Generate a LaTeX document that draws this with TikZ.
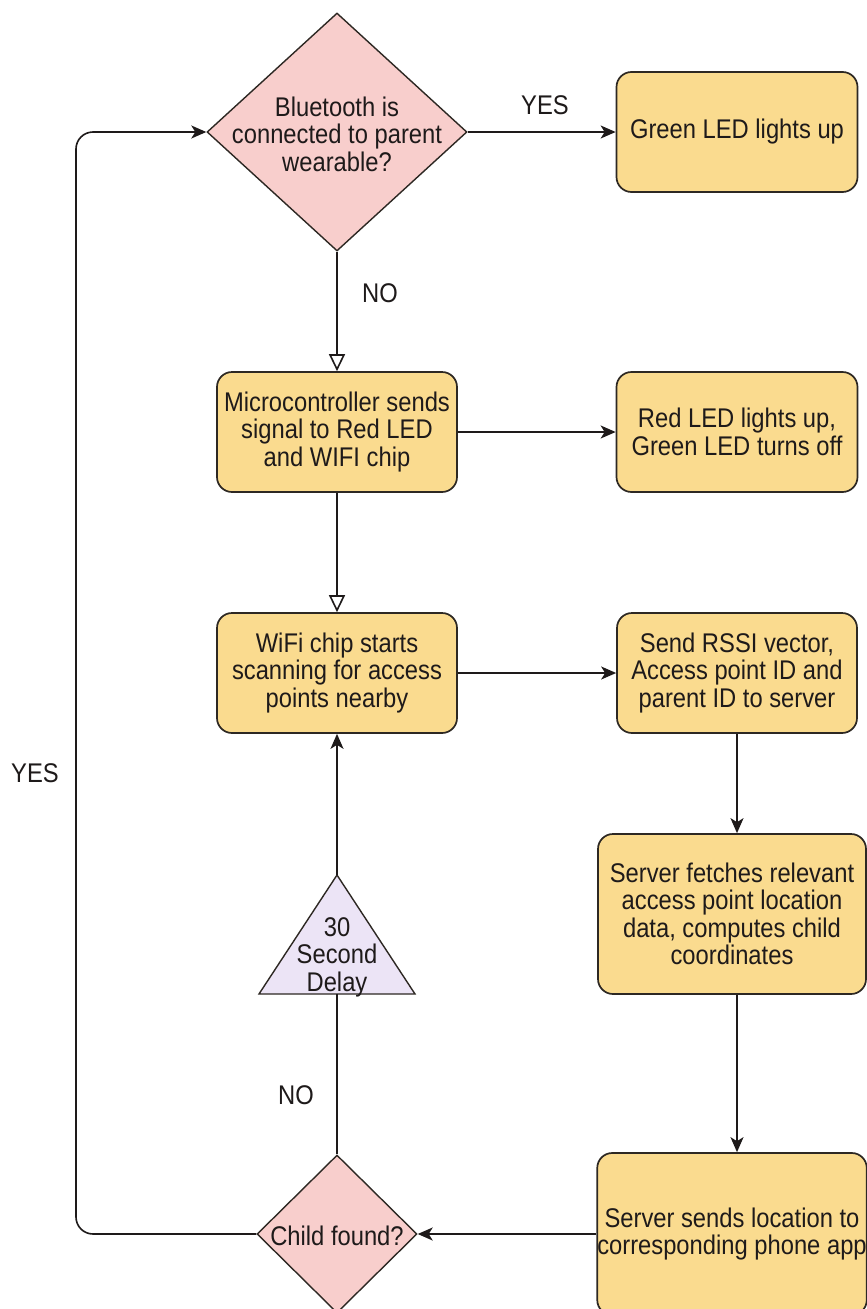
\documentclass[tikz,border=0pt]{standalone}
\usepackage{fontspec}
\setmainfont{Liberation Sans}[FakeStretch=0.88]
\usetikzlibrary{arrows.meta,shapes.geometric}
\definecolor{boxfill}{RGB}{250,219,143}
\definecolor{diafill}{RGB}{248,206,204}
\definecolor{trifill}{RGB}{236,228,246}
\definecolor{ink}{RGB}{30,26,26}
\definecolor{edgecol}{RGB}{45,40,35}
\newcommand\myfs{\fontsize{27}{27.5}\selectfont}
\tikzset{
  procbox/.style={draw=edgecol, line width=1.7pt, fill=boxfill, rounded corners=15pt,
    minimum width=240pt, minimum height=120pt, inner sep=0pt, text=ink, align=center, font=\myfs},
  decision/.style={diamond, draw=edgecol, line width=1.4pt, fill=diafill, inner sep=0pt},
  lbl/.style={text=ink, font=\myfs, inner sep=0pt, align=center},
  arr/.style={-{Stealth[length=15pt,width=13pt,inset=4pt]}, line width=1.6pt, draw=ink},
  openarr/.style={-{Triangle[open,length=17pt,width=16pt,fill=white]}, line width=1.6pt, draw=ink},
  link/.style={line width=1.6pt, draw=ink},
  trishape/.style={draw=edgecol, line width=1.4pt, fill=trifill, line join=miter}
}
\begin{document}
\begin{tikzpicture}[x=1pt,y=-1pt]
\fill[white] (0,0) rectangle (867,1309);
\clip (0,0) rectangle (867,1309);

% nodes
\node[decision, minimum width=260pt, minimum height=238pt] (d1) at (337,132) {};
\node[lbl] (d1t) at (337,134) {Bluetooth is\\connected to parent\\wearable?};
\node[procbox, minimum width=241pt] (g) at (737,132) {Green LED lights up};
\node[procbox] (m) at (337,432) {Microcontroller sends\\signal to Red LED\\and WIFI chip};
\node[procbox, minimum width=241pt] (r) at (737,432) {Red LED lights up,\\Green LED turns off};
\node[procbox] (w) at (337,673) {WiFi chip starts\\scanning for access\\points nearby};
\node[procbox] (s) at (737,673) {Send RSSI vector,\\Access point ID and\\parent ID to server};
\node[procbox, minimum width=268pt, minimum height=160pt] (f) at (732,914) {Server fetches relevant\\access point location\\data, computes child\\coordinates};
\node[procbox, minimum width=268pt, minimum height=162pt] (e) at (732,1234) {Server sends location to\\corresponding phone app};
\node[decision, minimum width=160pt, minimum height=158pt] (c) at (337,1234) {};
\node[lbl] (ct) at (337,1236) {Child found?};

% delay triangle
\coordinate (tapex) at (337,875);
\coordinate (tbase) at (337,994);
\draw[trishape] (tapex) -- (415,994) -- (259,994) -- cycle;
\node[lbl] (tl) at (337,957) {30\\Second\\Delay};

% connectors
\draw[arr] (d1.east) -- (g.west);
\node[lbl] (yes1) at (545,105) {YES};
\draw[openarr] (d1.south) -- (m.north);
\node[lbl] (no1) at (380,293) {NO};
\draw[arr] (m.east) -- (r.west);
\draw[openarr] (m.south) -- (w.north);
\draw[arr] (w.east) -- (s.west);
\draw[arr] (s.south) -- (s.south |- f.north);
\draw[arr] (s.south |- f.south) -- (s.south |- e.north);
\draw[arr] (e.west) -- (c.east);
\draw[link] (c.north) -- (tbase);
\node[lbl] (no2) at (296,1095) {NO};
\draw[arr] (tapex) -- (w.south);
\draw[arr, rounded corners=17pt] (c.west) -- (76,1234) -- (76,132) -- (d1.west);
\node[lbl] (yes2) at (35,773) {YES};
\end{tikzpicture}
\end{document}
